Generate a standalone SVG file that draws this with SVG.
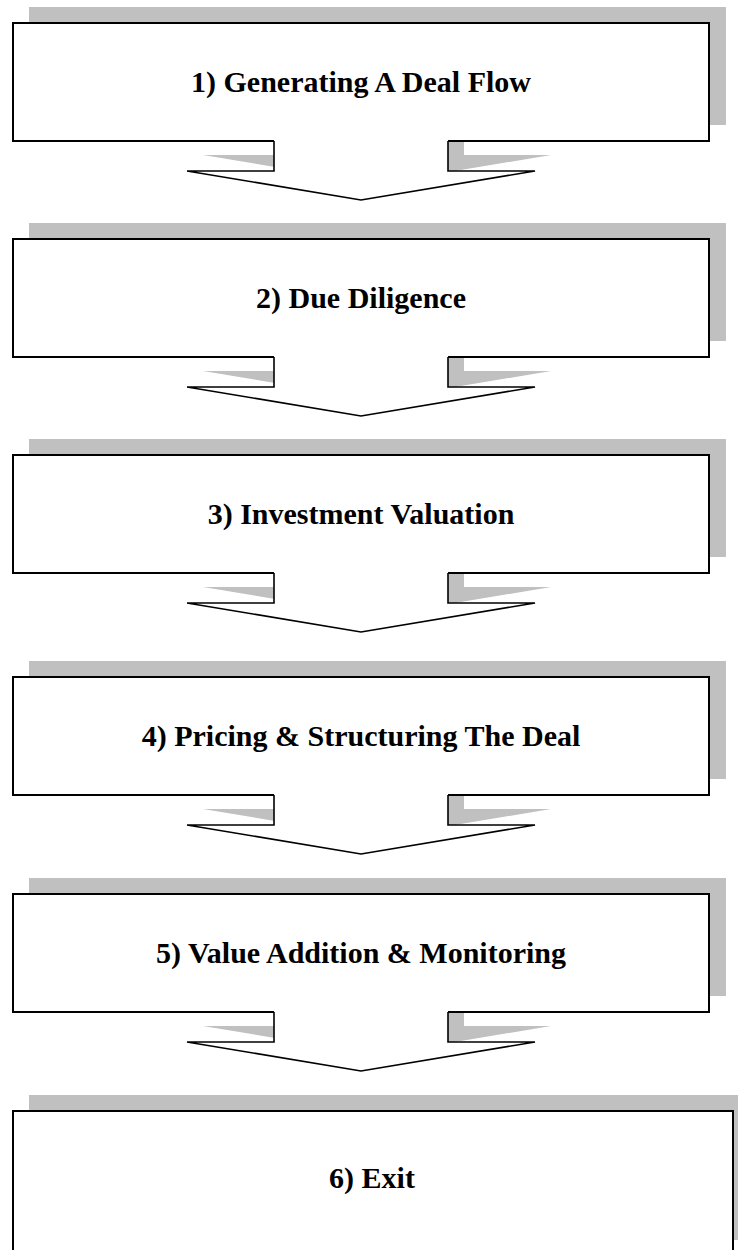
<svg xmlns="http://www.w3.org/2000/svg" width="738" height="1250" viewBox="0 0 738 1250">
  <style>
    .shadow { fill: #c0c0c0; stroke: none; }
    .box { fill: #ffffff; stroke: #000000; stroke-width: 2; }
    .label { font-family: "Liberation Serif", "Times New Roman", serif; font-weight: bold; font-size: 30px; fill: #000000; text-anchor: middle; }
    .arrow-fill { fill: #ffffff; stroke: none; }
    .arrow-line { fill: none; stroke: #000000; stroke-width: 1.6; stroke-linejoin: miter; }
  </style>
  <defs>
    <!-- block arrow outline, origin at the bottom edge of the box above -->
    <polygon id="arrow-shape" points="274,-2 274,30 187,30 361,59 535,30 448,30 448,-2"/>
    <polyline id="arrow-edge" points="274,0 274,30 187,30 361,59 535,30 448,30 448,0"/>
  </defs>
  <rect width="738" height="1250" fill="#ffffff"/>

  <!-- drop shadows, offset 16 right and 16 up -->
  <g id="shadows">
    <rect class="shadow" x="29" y="7" width="697" height="118"/>
    <rect class="shadow" x="29" y="223" width="697" height="118"/>
    <rect class="shadow" x="29" y="439" width="697" height="118"/>
    <rect class="shadow" x="29" y="661" width="697" height="118"/>
    <rect class="shadow" x="29" y="878" width="697" height="118"/>
    <rect class="shadow" x="29" y="1095" width="730" height="145"/>
    <use href="#arrow-shape" class="shadow" transform="translate(16,125)"/>
    <use href="#arrow-shape" class="shadow" transform="translate(16,341)"/>
    <use href="#arrow-shape" class="shadow" transform="translate(16,557)"/>
    <use href="#arrow-shape" class="shadow" transform="translate(16,779)"/>
    <use href="#arrow-shape" class="shadow" transform="translate(16,996)"/>
  </g>

  <g id="step1">
    <rect class="box" x="13" y="23" width="696" height="118"/>
    <text class="label" x="361" y="92">1) Generating A Deal Flow</text>
  </g>
  <g id="step2">
    <rect class="box" x="13" y="239" width="696" height="118"/>
    <text class="label" x="361" y="308">2) Due Diligence</text>
  </g>
  <g id="step3">
    <rect class="box" x="13" y="455" width="696" height="118"/>
    <text class="label" x="361" y="524">3) Investment Valuation</text>
  </g>
  <g id="step4">
    <rect class="box" x="13" y="677" width="696" height="118"/>
    <text class="label" x="361" y="746">4) Pricing &amp; Structuring The Deal</text>
  </g>
  <g id="step5">
    <rect class="box" x="13" y="894" width="696" height="118"/>
    <text class="label" x="361" y="963">5) Value Addition &amp; Monitoring</text>
  </g>
  <g id="step6">
    <rect class="box" x="13" y="1111" width="720" height="150"/>
    <text class="label" x="372" y="1188">6) Exit</text>
  </g>

  <g id="connectors">
    <g transform="translate(0,141)">
      <use href="#arrow-shape" class="arrow-fill"/>
      <use href="#arrow-edge" class="arrow-line"/>
    </g>
    <g transform="translate(0,357)">
      <use href="#arrow-shape" class="arrow-fill"/>
      <use href="#arrow-edge" class="arrow-line"/>
    </g>
    <g transform="translate(0,573)">
      <use href="#arrow-shape" class="arrow-fill"/>
      <use href="#arrow-edge" class="arrow-line"/>
    </g>
    <g transform="translate(0,795)">
      <use href="#arrow-shape" class="arrow-fill"/>
      <use href="#arrow-edge" class="arrow-line"/>
    </g>
    <g transform="translate(0,1012)">
      <use href="#arrow-shape" class="arrow-fill"/>
      <use href="#arrow-edge" class="arrow-line"/>
    </g>
  </g>
</svg>
